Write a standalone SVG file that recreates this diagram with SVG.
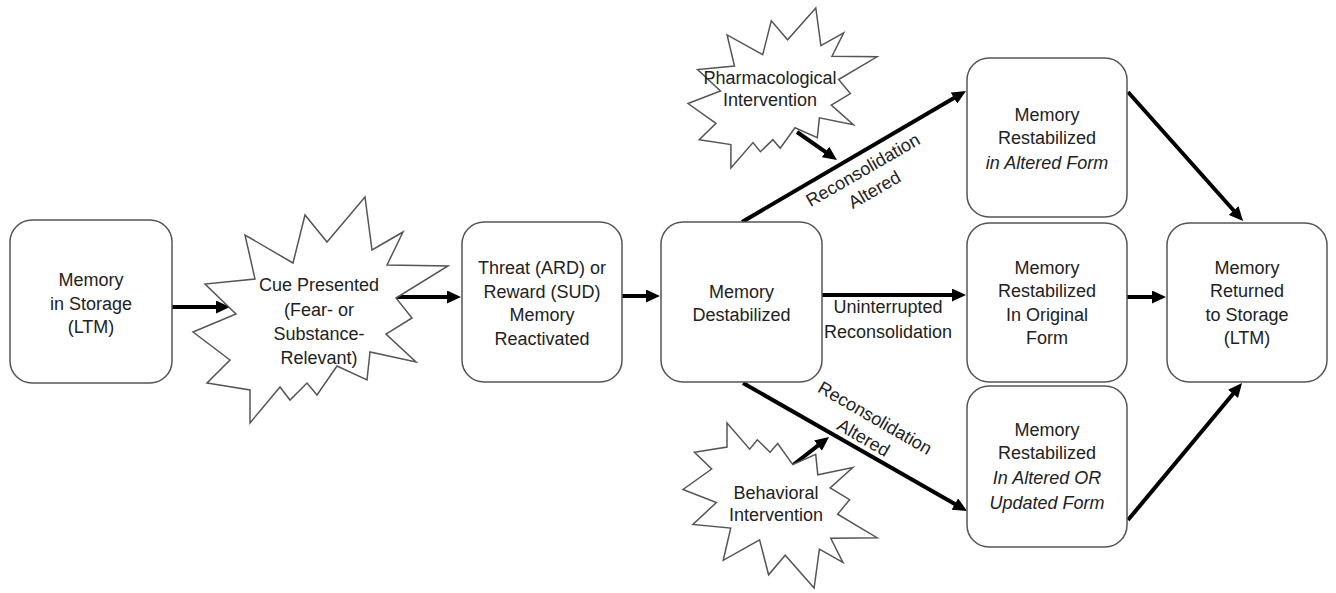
<svg xmlns="http://www.w3.org/2000/svg" width="1336" height="593" viewBox="0 0 1336 593">
  <defs>
    <style>
      .box { fill: #fff; stroke: #555; stroke-width: 1.5; }
      .burst { fill: #fff; stroke: #555; stroke-width: 1.5; stroke-linejoin: miter; }
      text { font-family: "Liberation Sans", Arial, sans-serif; font-size: 18px; fill: #222; text-anchor: middle; }
      .it { font-style: italic; }
      .arr { stroke: #000; stroke-width: 4; fill: none; marker-end: url(#ah); }
    </style>
    <marker id="ah" markerUnits="userSpaceOnUse" markerWidth="15" markerHeight="13" refX="6" refY="6.5" orient="auto">
      <path d="M0,0 L14,6.5 L0,13 z" fill="#000"/>
    </marker>
  </defs>
  <rect width="1336" height="593" fill="#fff"/>

  <g id="connectors">
    <line class="arr" x1="172" y1="307" x2="222" y2="307"/>
    <line class="arr" x1="395" y1="297" x2="453" y2="297"/>
    <line class="arr" x1="622" y1="296" x2="652" y2="296"/>
    <line class="arr" x1="822" y1="295" x2="958" y2="295"/>
    <line class="arr" x1="1127" y1="297" x2="1158" y2="297"/>
    <line class="arr" x1="742" y1="222" x2="959.1" y2="95"/>
    <line class="arr" x1="743" y1="383" x2="960.1" y2="507"/>
    <line class="arr" x1="1128" y1="92" x2="1237.7" y2="215"/>
    <line class="arr" x1="1128" y1="520" x2="1236.9" y2="389.2"/>
    <line class="arr" x1="797" y1="132" x2="830.4" y2="155.4"/>
    <line class="arr" x1="793" y1="465" x2="822.7" y2="441.9"/>
  </g>

  <g id="labels">
    <g transform="translate(863,170) rotate(-30)">
      <text x="0" y="6">Reconsolidation</text>
      <text x="0" y="29">Altered</text>
    </g>
    <text x="888" y="313">Uninterrupted</text>
    <text x="888" y="338">Reconsolidation</text>
    <g transform="translate(875,418) rotate(30)">
      <text x="0" y="6">Reconsolidation</text>
      <text x="0" y="29">Altered</text>
    </g>
  </g>

  <g id="memory-storage">
    <rect class="box" x="10" y="220" width="162" height="163" rx="22"/>
    <text x="91" y="286">Memory</text>
    <text x="91" y="310">in Storage</text>
    <text x="91" y="333">(LTM)</text>
  </g>

  <g id="cue-presented">
    <polygon class="burst" points="365,197 372,250 403,232 387,265 448,266 396,298 412,318 386,334 416,362 370,352 367,380 337,366 317,395 307,383 290,400 280,387 250,423 250,390 207,383 230,360 193,332 236,314 205,284 255,279 245,235 293,263 305,215 327,242"/>
    <text x="319" y="291">Cue Presented</text>
    <text x="319" y="316">(Fear- or</text>
    <text x="319" y="340">Substance-</text>
    <text x="319" y="364">Relevant)</text>
  </g>

  <g id="memory-reactivated">
    <rect class="box" x="462" y="222" width="160" height="160" rx="22"/>
    <text x="542" y="274">Threat (ARD) or</text>
    <text x="542" y="298">Reward (SUD)</text>
    <text x="542" y="321">Memory</text>
    <text x="542" y="345">Reactivated</text>
  </g>

  <g id="memory-destabilized">
    <rect class="box" x="661" y="222" width="161" height="160" rx="22"/>
    <text x="741.5" y="298">Memory</text>
    <text x="741.5" y="321">Destabilized</text>
  </g>

  <g id="pharmacological-intervention">
    <polygon class="burst" points="815.8,8 820.9,45.6 843.7,32.8 832,56.2 877,56.8 838.6,79.5 850.4,93.6 831.3,105 853.4,124.8 819.4,117.8 817.3,137.6 795,127.7 780.2,148.2 772.9,139.7 760.4,151.7 753,142.6 730.9,168 730.9,144.6 699.2,139.7 716,123.4 688,103.5 720.5,90.9 697.6,69.6 734.5,66.1 727.1,34.9 762.7,54.7 771.3,20.8 787.6,39.8"/>
    <text x="770" y="84">Pharmacological</text>
    <text x="770" y="106">Intervention</text>
  </g>

  <g id="behavioral-intervention">
    <polygon class="burst" points="814.1,588 819.4,549.2 842.9,562.4 830.8,538.3 877,537.7 837.6,514.2 849.6,499.7 830.1,488 852.8,467.6 817.8,474.8 815.7,454.4 792.8,464.6 777.7,443.5 770.1,452.2 757.3,439.8 749.7,449.2 727,423 727,447.1 694.4,452.2 711.7,469 683,489.5 716.4,502.5 692.9,524.5 730.7,528.1 723.2,560.3 759.6,539.8 768.6,574.8 785.2,555.2"/>
    <text x="776" y="499">Behavioral</text>
    <text x="776" y="521">Intervention</text>
  </g>

  <g id="restabilized-altered">
    <rect class="box" x="967" y="58" width="160" height="159" rx="22"/>
    <text x="1047" y="121">Memory</text>
    <text x="1047" y="144">Restabilized</text>
    <text class="it" x="1047" y="169">in Altered Form</text>
  </g>

  <g id="restabilized-original">
    <rect class="box" x="967" y="223" width="160" height="159" rx="22"/>
    <text x="1047" y="274">Memory</text>
    <text x="1047" y="297">Restabilized</text>
    <text x="1047" y="321">In Original</text>
    <text x="1047" y="344">Form</text>
  </g>

  <g id="restabilized-updated">
    <rect class="box" x="967" y="386" width="160" height="161" rx="22"/>
    <text x="1047" y="436">Memory</text>
    <text x="1047" y="459">Restabilized</text>
    <text class="it" x="1047" y="484">In Altered OR</text>
    <text class="it" x="1047" y="509">Updated Form</text>
  </g>

  <g id="memory-returned">
    <rect class="box" x="1167" y="223" width="160" height="159" rx="22"/>
    <text x="1247" y="274">Memory</text>
    <text x="1247" y="297">Returned</text>
    <text x="1247" y="321">to Storage</text>
    <text x="1247" y="344">(LTM)</text>
  </g>
</svg>
